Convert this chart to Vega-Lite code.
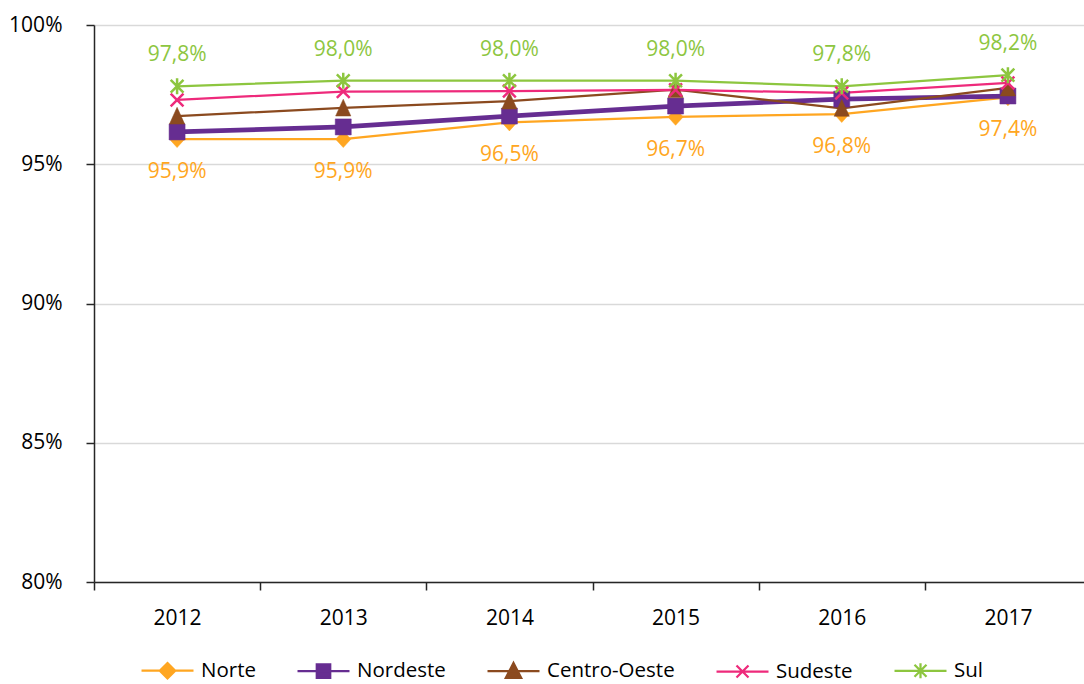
{
  "$schema": "https://vega.github.io/schema/vega-lite/v6.json",
  "width": 990,
  "height": 557,
  "autosize": "none",
  "padding": {"left": 94, "top": 25, "right": 0, "bottom": 102},
  "background": "white",
  "data": {
    "values": [
      {"year": "2012", "serie": "Norte", "v": 0.959},
      {"year": "2013", "serie": "Norte", "v": 0.959},
      {"year": "2014", "serie": "Norte", "v": 0.965},
      {"year": "2015", "serie": "Norte", "v": 0.967},
      {"year": "2016", "serie": "Norte", "v": 0.968},
      {"year": "2017", "serie": "Norte", "v": 0.974},
      {"year": "2012", "serie": "Nordeste", "v": 0.9616},
      {"year": "2013", "serie": "Nordeste", "v": 0.9634},
      {"year": "2014", "serie": "Nordeste", "v": 0.9673},
      {"year": "2015", "serie": "Nordeste", "v": 0.9709},
      {"year": "2016", "serie": "Nordeste", "v": 0.9734},
      {"year": "2017", "serie": "Nordeste", "v": 0.9745},
      {"year": "2012", "serie": "Centro-Oeste", "v": 0.9673},
      {"year": "2013", "serie": "Centro-Oeste", "v": 0.9702},
      {"year": "2014", "serie": "Centro-Oeste", "v": 0.9727},
      {"year": "2015", "serie": "Centro-Oeste", "v": 0.9768},
      {"year": "2016", "serie": "Centro-Oeste", "v": 0.9701},
      {"year": "2017", "serie": "Centro-Oeste", "v": 0.9774},
      {"year": "2012", "serie": "Sudeste", "v": 0.9731},
      {"year": "2013", "serie": "Sudeste", "v": 0.9761},
      {"year": "2014", "serie": "Sudeste", "v": 0.9763},
      {"year": "2015", "serie": "Sudeste", "v": 0.9767},
      {"year": "2016", "serie": "Sudeste", "v": 0.9756},
      {"year": "2017", "serie": "Sudeste", "v": 0.9792},
      {"year": "2012", "serie": "Sul", "v": 0.978},
      {"year": "2013", "serie": "Sul", "v": 0.980},
      {"year": "2014", "serie": "Sul", "v": 0.980},
      {"year": "2015", "serie": "Sul", "v": 0.980},
      {"year": "2016", "serie": "Sul", "v": 0.978},
      {"year": "2017", "serie": "Sul", "v": 0.982}
    ]
  },
  "encoding": {
    "x": {
      "field": "year",
      "type": "ordinal",
      "scale": {"type": "band", "paddingInner": 0, "paddingOuter": 0, "range": [0, 997]},
      "axis": {
        "title": null,
        "labelAngle": 0,
        "tickBand": "extent",
        "tickSize": 8,
        "tickWidth": 1.5,
        "tickColor": "#262626",
        "domainColor": "#262626",
        "domainWidth": 1.5,
        "labelPadding": 17,
        "labelFont": "Open Sans",
        "labelFontSize": 21,
        "labelColor": "#000000",
        "grid": false
      }
    },
    "y": {
      "field": "v",
      "type": "quantitative",
      "scale": {"domain": [0.8, 1.0], "nice": false, "zero": false},
      "axis": {
        "title": null,
        "values": [0.8, 0.85, 0.9, 0.95, 1.0],
        "format": ".0%",
        "grid": true,
        "gridColor": "#D9D9D9",
        "gridWidth": 1.5,
        "tickSize": 8,
        "tickWidth": 1.5,
        "tickColor": "#262626",
        "domainColor": "#262626",
        "domainWidth": 1.5,
        "labelPadding": 24,
        "labelFont": "Open Sans",
        "labelFontSize": 21,
        "labelColor": "#000000"
      }
    }
  },
  "layer": [
    {
      "mark": {"type": "line", "strokeCap": "round", "strokeJoin": "round"},
      "encoding": {
        "color": {
          "field": "serie",
          "type": "nominal",
          "scale": {"domain": ["Norte", "Nordeste", "Centro-Oeste", "Sudeste", "Sul"], "range": ["#FFA621", "#662D91", "#8B4A1F", "#EE2A7B", "#8DC63F"]}
        },
        "strokeWidth": {"condition": {"test": "datum.serie === 'Nordeste'", "value": 4.75}, "value": 2.25}
      }
    },
    {
      "transform": [{"filter": "datum.serie === 'Norte'"}],
      "mark": {"type": "point", "filled": true, "opacity": 1, "size": 256, "fill": "#FFA621", "stroke": "#FFA621", "strokeWidth": 0.5, "shape": "M0,-1.05L0.95,0L0,1.05L-0.95,0Z"}
    },
    {
      "transform": [{"filter": "datum.serie === 'Nordeste'"}],
      "mark": {"type": "point", "filled": true, "opacity": 1, "size": 256, "fill": "#662D91", "stroke": "#662D91", "strokeWidth": 0.5, "shape": "M-1,-1H1V1H-1Z"}
    },
    {
      "transform": [{"filter": "datum.serie === 'Centro-Oeste'"}],
      "mark": {"type": "point", "filled": true, "opacity": 1, "size": 256, "fill": "#8B4A1F", "stroke": "#8B4A1F", "strokeWidth": 0.5, "shape": "M0,-1.1L0.95,1H-0.95Z"}
    },
    {
      "transform": [{"filter": "datum.serie === 'Sudeste'"}],
      "mark": {"type": "point", "filled": true, "opacity": 1, "size": 256, "fill": "#EE2A7B", "stroke": "#EE2A7B", "strokeWidth": 2.5, "shape": "M-0.8,-0.8L0.8,0.8M-0.8,0.8L0.8,-0.8"}
    },
    {
      "transform": [{"filter": "datum.serie === 'Sul'"}],
      "mark": {"type": "point", "filled": true, "opacity": 1, "size": 256, "fill": "#8DC63F", "stroke": "#8DC63F", "strokeWidth": 2.5, "shape": "M-0.8,-0.8L0.8,0.8M-0.8,0.8L0.8,-0.8M0,-1V1"}
    },
    {
      "transform": [{"filter": "datum.serie === 'Sul'"}],
      "mark": {"type": "text", "dy": -31, "baseline": "middle", "align": "center", "font": "Open Sans", "fontSize": 21, "color": "#8DC63F"},
      "encoding": {"text": {"field": "v", "type": "quantitative", "format": ".1%"}}
    },
    {
      "transform": [{"filter": "datum.serie === 'Norte'"}],
      "mark": {"type": "text", "dy": 33, "baseline": "middle", "align": "center", "font": "Open Sans", "fontSize": 21, "color": "#FFA621"},
      "encoding": {"text": {"field": "v", "type": "quantitative", "format": ".1%"}}
    },
    {
      "mark": {"type": "point", "filled": true, "opacity": 0},
      "encoding": {
        "color": {
          "field": "serie",
          "type": "nominal",
          "scale": {"domain": ["Norte", "Nordeste", "Centro-Oeste", "Sudeste", "Sul"], "range": ["#FFA621", "#662D91", "#8B4A1F", "#EE2A7B", "#8DC63F"]}
        },
        "shape": {
          "field": "serie",
          "type": "nominal",
          "scale": {
            "domain": ["Norte", "Nordeste", "Centro-Oeste", "Sudeste", "Sul"],
            "range": [
              "M-3.333,0H1M-1.1667,-0.64L-0.5267,0L-1.1667,0.64L-1.8067,0Z",
              "M-3.333,0H1M-1.7267,-0.56H-0.6067V0.56H-1.7267Z",
              "M-3.333,0H1M-1.1667,-0.68L-0.5267,0.56H-1.8067Z",
              "M-3.333,0H1M-1.6667,-0.5L-0.6667,0.5M-1.6667,0.5L-0.6667,-0.5",
              "M-3.333,0H1M-1.6667,-0.5L-0.6667,0.5M-1.6667,0.5L-0.6667,-0.5M-1.1667,-0.62V0.62"
            ]
          }
        }
      }
    }
  ],
  "config": {
    "view": {"stroke": null},
    "locale": {"number": {"decimal": ",", "thousands": ".", "grouping": [3], "currency": ["R$", ""]}},
    "legend": {
      "orient": "none",
      "legendX": 74,
      "legendY": 632,
      "direction": "horizontal",
      "columns": 5,
      "title": null,
      "padding": 0,
      "symbolSize": 576,
      "symbolStrokeWidth": 2.25,
      "symbolOpacity": 1,
      "labelFont": "Open Sans",
      "labelFontSize": 20.5,
      "labelColor": "#000000",
      "labelOffset": 6,
      "columnPadding": 37
    }
  }
}
